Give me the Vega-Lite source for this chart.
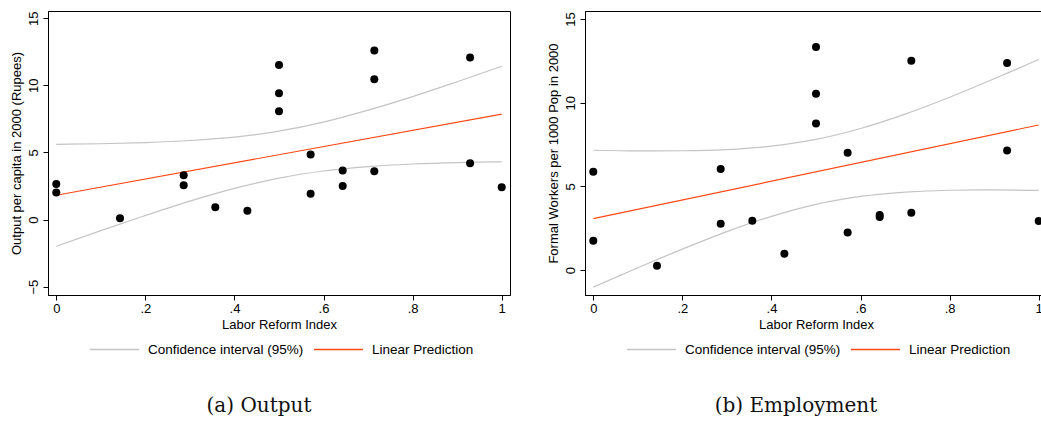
{
  "$schema": "https://vega.github.io/schema/vega-lite/v6.json",
  "padding": {"left": 9, "top": 10, "right": 0, "bottom": 0},
  "background": "white",
  "datasets": {
    "pts_a": [
      {"x": 0, "y": 2.65}, {"x": 0, "y": 2.01}, {"x": 0.143, "y": 0.09}, {"x": 0.286, "y": 3.30}, {"x": 0.286, "y": 2.55},
      {"x": 0.357, "y": 0.91}, {"x": 0.429, "y": 0.66}, {"x": 0.5, "y": 11.52}, {"x": 0.5, "y": 9.41}, {"x": 0.5, "y": 8.07},
      {"x": 0.571, "y": 4.84}, {"x": 0.571, "y": 1.93}, {"x": 0.643, "y": 3.65}, {"x": 0.643, "y": 2.50}, {"x": 0.714, "y": 12.59},
      {"x": 0.714, "y": 10.45}, {"x": 0.714, "y": 3.60}, {"x": 0.929, "y": 12.07}, {"x": 0.929, "y": 4.19}, {"x": 1, "y": 2.40}
    ],
    "fit_a": [
      {"x": 0, "y": 1.81, "s": "Linear Prediction", "p": "fit"}, {"x": 1, "y": 7.86, "s": "Linear Prediction", "p": "fit"},
      {"x": 0, "y": 5.61, "s": "Confidence interval (95%)", "p": "up"}, {"x": 0.1, "y": 5.65, "s": "Confidence interval (95%)", "p": "up"},
      {"x": 0.2, "y": 5.74, "s": "Confidence interval (95%)", "p": "up"}, {"x": 0.3, "y": 5.89, "s": "Confidence interval (95%)", "p": "up"},
      {"x": 0.4, "y": 6.14, "s": "Confidence interval (95%)", "p": "up"}, {"x": 0.5, "y": 6.59, "s": "Confidence interval (95%)", "p": "up"},
      {"x": 0.6, "y": 7.26, "s": "Confidence interval (95%)", "p": "up"}, {"x": 0.7, "y": 8.15, "s": "Confidence interval (95%)", "p": "up"},
      {"x": 0.8, "y": 9.16, "s": "Confidence interval (95%)", "p": "up"}, {"x": 0.9, "y": 10.27, "s": "Confidence interval (95%)", "p": "up"},
      {"x": 1, "y": 11.42, "s": "Confidence interval (95%)", "p": "up"},
      {"x": 0, "y": -1.99, "s": "Confidence interval (95%)", "p": "lo"}, {"x": 0.1, "y": -0.82, "s": "Confidence interval (95%)", "p": "lo"},
      {"x": 0.2, "y": 0.30, "s": "Confidence interval (95%)", "p": "lo"}, {"x": 0.3, "y": 1.37, "s": "Confidence interval (95%)", "p": "lo"},
      {"x": 0.4, "y": 2.32, "s": "Confidence interval (95%)", "p": "lo"}, {"x": 0.5, "y": 3.09, "s": "Confidence interval (95%)", "p": "lo"},
      {"x": 0.6, "y": 3.62, "s": "Confidence interval (95%)", "p": "lo"}, {"x": 0.7, "y": 3.95, "s": "Confidence interval (95%)", "p": "lo"},
      {"x": 0.8, "y": 4.14, "s": "Confidence interval (95%)", "p": "lo"}, {"x": 0.9, "y": 4.25, "s": "Confidence interval (95%)", "p": "lo"},
      {"x": 1, "y": 4.30, "s": "Confidence interval (95%)", "p": "lo"}
    ],
    "pts_b": [
      {"x": 0, "y": 5.88}, {"x": 0, "y": 1.75}, {"x": 0.143, "y": 0.26}, {"x": 0.286, "y": 6.04}, {"x": 0.286, "y": 2.77},
      {"x": 0.357, "y": 2.95}, {"x": 0.429, "y": 0.98}, {"x": 0.5, "y": 13.33}, {"x": 0.5, "y": 10.54}, {"x": 0.5, "y": 8.76},
      {"x": 0.571, "y": 7.01}, {"x": 0.571, "y": 2.25}, {"x": 0.643, "y": 3.29}, {"x": 0.643, "y": 3.17}, {"x": 0.714, "y": 12.51},
      {"x": 0.714, "y": 3.43}, {"x": 0.929, "y": 12.37}, {"x": 0.929, "y": 7.15}, {"x": 1, "y": 2.93}
    ],
    "fit_b": [
      {"x": 0, "y": 3.07, "s": "Linear Prediction", "p": "fit"}, {"x": 1, "y": 8.67, "s": "Linear Prediction", "p": "fit"},
      {"x": 0, "y": 7.16, "s": "Confidence interval (95%)", "p": "up"}, {"x": 0.1, "y": 7.12, "s": "Confidence interval (95%)", "p": "up"},
      {"x": 0.2, "y": 7.13, "s": "Confidence interval (95%)", "p": "up"}, {"x": 0.3, "y": 7.20, "s": "Confidence interval (95%)", "p": "up"},
      {"x": 0.4, "y": 7.41, "s": "Confidence interval (95%)", "p": "up"}, {"x": 0.5, "y": 7.81, "s": "Confidence interval (95%)", "p": "up"},
      {"x": 0.6, "y": 8.46, "s": "Confidence interval (95%)", "p": "up"}, {"x": 0.7, "y": 9.32, "s": "Confidence interval (95%)", "p": "up"},
      {"x": 0.8, "y": 10.33, "s": "Confidence interval (95%)", "p": "up"}, {"x": 0.9, "y": 11.43, "s": "Confidence interval (95%)", "p": "up"},
      {"x": 1, "y": 12.58, "s": "Confidence interval (95%)", "p": "up"},
      {"x": 0, "y": -1.02, "s": "Confidence interval (95%)", "p": "lo"}, {"x": 0.1, "y": 0.14, "s": "Confidence interval (95%)", "p": "lo"},
      {"x": 0.2, "y": 1.25, "s": "Confidence interval (95%)", "p": "lo"}, {"x": 0.3, "y": 2.30, "s": "Confidence interval (95%)", "p": "lo"},
      {"x": 0.4, "y": 3.21, "s": "Confidence interval (95%)", "p": "lo"}, {"x": 0.5, "y": 3.93, "s": "Confidence interval (95%)", "p": "lo"},
      {"x": 0.6, "y": 4.40, "s": "Confidence interval (95%)", "p": "lo"}, {"x": 0.7, "y": 4.66, "s": "Confidence interval (95%)", "p": "lo"},
      {"x": 0.8, "y": 4.77, "s": "Confidence interval (95%)", "p": "lo"}, {"x": 0.9, "y": 4.79, "s": "Confidence interval (95%)", "p": "lo"},
      {"x": 1, "y": 4.76, "s": "Confidence interval (95%)", "p": "lo"}
    ]
  },
  "config": {
    "font": "Liberation Sans",
    "view": {"stroke": "black", "strokeWidth": 1},
    "axis": {
      "grid": false, "domainColor": "black", "tickColor": "black", "labelColor": "black", "titleColor": "black",
      "labelFontSize": 13, "titleFontSize": 13, "titleFontWeight": "normal", "labelFont": "Liberation Sans", "titleFont": "Liberation Sans",
      "tickSize": 5, "labelFlush": false, "labelOverlap": false
    },
    "legend": {
      "orient": "none", "direction": "horizontal", "symbolType": "stroke", "symbolSize": 2400, "symbolStrokeWidth": 1.5,
      "labelFontSize": 13.5, "labelFont": "Liberation Sans", "labelColor": "black", "labelOffset": 8, "columnPadding": 7,
      "title": null, "padding": 0
    },
    "title": {"font": "DejaVu Serif", "fontSize": 20, "fontWeight": 300, "color": "#111111"}
  },
  "spacing": 35,
  "hconcat": [
    {
      "width": 462, "height": 284,
      "title": {"text": "(a)\u00a0Output", "orient": "bottom", "offset": 40, "dx": -20},
      "layer": [
        {
          "data": {"name": "fit_a"},
          "mark": {"type": "line", "interpolate": "monotone", "strokeWidth": 1.2},
          "encoding": {
            "x": {"field": "x", "type": "quantitative", "scale": {"domain": [-0.0186, 1.0186], "nice": false, "zero": false},
                  "axis": {"title": "Labor Reform Index", "values": [0, 0.2, 0.4, 0.6, 0.8, 1], "titlePadding": 3,
                           "labelExpr": "datum.value == 0 ? '0' : datum.value == 1 ? '1' : substring(format(datum.value, '.1f'), 1)"}},
            "y": {"field": "y", "type": "quantitative", "scale": {"domain": [-5.62, 15.54], "nice": false, "zero": false},
                  "axis": {"title": "Output per capita in 2000 (Rupees)", "values": [-5, 0, 5, 10, 15], "labelAngle": 270,
                           "labelAlign": "center", "labelBaseline": "bottom", "labelPadding": 3, "titlePadding": 4}},
            "color": {"field": "s", "type": "nominal",
                      "scale": {"domain": ["Confidence interval (95%)", "Linear Prediction"], "range": ["#c4c4c4", "#ff4a14"]},
                      "legend": {"legendX": 41, "legendY": 313}},
            "detail": {"field": "p"}
          }
        },
        {
          "data": {"name": "pts_a"},
          "mark": {"type": "circle", "size": 64, "color": "black", "opacity": 1},
          "encoding": {
            "x": {"field": "x", "type": "quantitative"},
            "y": {"field": "y", "type": "quantitative"}
          }
        }
      ]
    },
    {
      "width": 462, "height": 284,
      "title": {"text": "(b)\u00a0Employment", "orient": "bottom", "offset": 40, "dx": -20},
      "layer": [
        {
          "data": {"name": "fit_b"},
          "mark": {"type": "line", "interpolate": "monotone", "strokeWidth": 1.2},
          "encoding": {
            "x": {"field": "x", "type": "quantitative", "scale": {"domain": [-0.0186, 1.0186], "nice": false, "zero": false},
                  "axis": {"title": "Labor Reform Index", "values": [0, 0.2, 0.4, 0.6, 0.8, 1], "titlePadding": 3,
                           "labelExpr": "datum.value == 0 ? '0' : datum.value == 1 ? '1' : substring(format(datum.value, '.1f'), 1)"}},
            "y": {"field": "y", "type": "quantitative", "scale": {"domain": [-1.49, 15.48], "nice": false, "zero": false},
                  "axis": {"title": "Formal Workers per 1000 Pop in 2000", "values": [0, 5, 10, 15], "labelAngle": 270,
                           "labelAlign": "center", "labelBaseline": "bottom", "labelPadding": 3, "titlePadding": 4}},
            "color": {"field": "s", "type": "nominal",
                      "scale": {"domain": ["Confidence interval (95%)", "Linear Prediction"], "range": ["#c4c4c4", "#ff4a14"]},
                      "legend": {"legendX": 41, "legendY": 313}},
            "detail": {"field": "p"}
          }
        },
        {
          "data": {"name": "pts_b"},
          "mark": {"type": "circle", "size": 64, "color": "black", "opacity": 1},
          "encoding": {
            "x": {"field": "x", "type": "quantitative"},
            "y": {"field": "y", "type": "quantitative"}
          }
        }
      ]
    }
  ],
  "resolve": {"scale": {"y": "independent", "color": "independent"}, "legend": {"color": "independent"}}
}
